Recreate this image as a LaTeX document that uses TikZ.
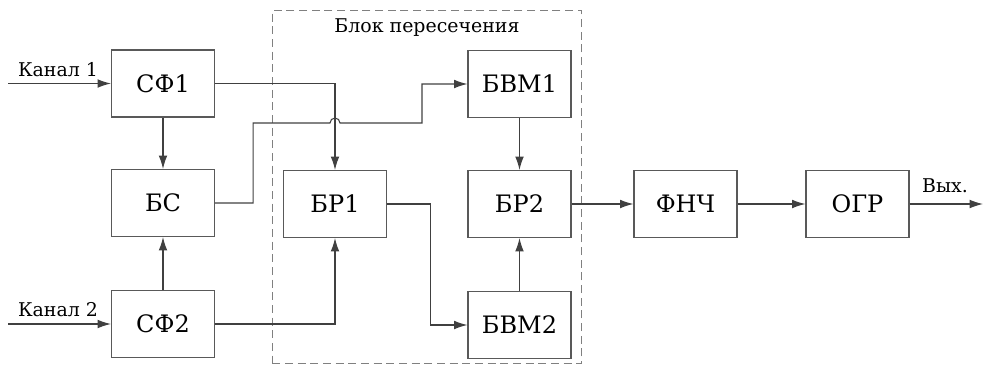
\documentclass[tikz,border=0pt]{standalone}
\usepackage{fontspec}
\setmainfont{DejaVu Serif}
\usepackage{tikz}
\usetikzlibrary{arrows.meta,positioning}

\begin{document}
\begin{tikzpicture}
			[
				x=0.75pt, y=-0.75pt,
				block/.style={draw=black!65, line width=1.1pt, fill=white, inner sep=0pt,
					minimum width=77pt, minimum height=50pt, font=\fontsize{18}{22}\selectfont},
				caption/.style={draw=none, fill=none, inner sep=0pt, font=\fontsize{14.2}{17}\selectfont},
				wire/.style={draw=black!75, line width=0.8pt},
				arrow/.style={wire, -{Latex[length=10pt,width=6.5pt]}}
			]
			\useasboundingbox (0,0) rectangle (983,365);

			% intersection block frame
			\node[draw=black!50, dashed, dash pattern=on 6pt off 3.5pt, line width=0.9pt,
				minimum width=232pt, minimum height=265pt, inner sep=0pt] (frame) at (427,187) {};
			\node[caption] (title) at (427,28) {Блок пересечения};

			% blocks
			\node[block] (sf1)  at (163,  83.5) {СФ1};
			\node[block] (bs)   at (163, 203)   {БС};
			\node[block] (sf2)  at (163, 324)   {СФ2};
			\node[block] (br1)  at (335, 204)   {БР1};
			\node[block] (bvm1) at (519.5, 84)  {БВМ1};
			\node[block] (br2)  at (519.5, 204) {БР2};
			\node[block] (bvm2) at (519.5, 325) {БВМ2};
			\node[block] (fnch) at (685.5, 204) {ФНЧ};
			\node[block] (ogr)  at (857.5, 204) {ОГР};

			% inputs / output
			\coordinate (in1) at (8, 83.5);
			\coordinate (in2) at (8, 324);
			\coordinate (out) at (983, 204);
			\node[caption] (ch1) at (58, 70)  {Канал 1};
			\node[caption] (ch2) at (58, 310) {Канал 2};
			\node[caption] (vyh) at (945, 186) {Вых.};

			% connections
			\draw[arrow] (in1) -- (sf1);
			\draw[arrow] (in2) -- (sf2);
			\draw[arrow] (sf1) -- (bs);
			\draw[arrow] (sf2) -- (bs);
			\draw[arrow] (sf1.east) -| (br1.north);
			\draw[arrow] (sf2.east) -| (br1.south);
			\draw[arrow] (bs.east) -- ++(38,0) |- (330,123) arc (180:360:5) -- (422,123) |- (bvm1.west);
			\draw[arrow] (br1.east) -- ++(43,0) |- (bvm2.west);
			\draw[arrow] (bvm1) -- (br2);
			\draw[arrow] (bvm2) -- (br2);
			\foreach \from/\to in {br2/fnch,fnch/ogr}
			\draw[arrow] (\from) -- (\to);
			\draw[arrow] (ogr) -- (out);

		\end{tikzpicture}
\end{document}
